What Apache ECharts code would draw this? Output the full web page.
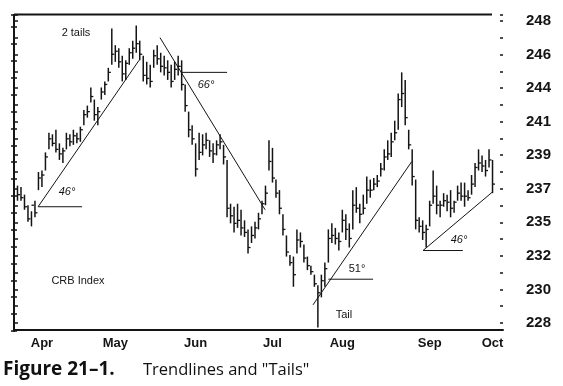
<!DOCTYPE html>
<html><head><meta charset="utf-8">
<script src="https://cdn.jsdelivr.net/npm/echarts@6/dist/echarts.min.js"></script>
<style>html,body{margin:0;padding:0;background:#fff}#c{width:563px;height:386px}</style>
</head><body><div id="c"></div>
<script>
// daily CRB Index bars (high / low / close), late March to October
const highs=[237.1,237.0,236.5,235.8,235.4,236.1,238.0,238.1,239.3,240.6,
240.5,240.8,239.9,239.6,240.6,240.5,240.8,240.6,241.0,242.1,
242.4,243.6,242.8,242.3,243.6,244.0,244.9,247.5,246.4,246.2,
245.7,245.4,246.2,246.7,247.7,246.7,245.7,245.3,245.1,246.1,
246.4,245.9,245.7,245.4,245.1,245.3,245.7,245.4,243.8,242.0,
241.1,239.9,240.6,240.5,240.6,240.1,239.9,240.1,240.5,239.8,
238.8,235.9,235.7,235.9,235.5,234.8,234.2,234.4,234.7,235.3,
236.1,237.1,240.1,239.6,237.5,236.8,235.2,233.8,232.5,232.4,
234.2,234.0,233.2,232.4,231.8,231.2,230.5,231.2,232.0,234.2,
234.6,234.3,234.0,235.5,235.2,234.6,236.8,237.0,235.9,236.5,
237.7,237.5,237.6,237.8,238.6,239.5,240.1,240.6,241.4,243.2,
244.6,244.1,240.8,239.5,237.5,235.0,234.8,234.5,236.1,238.1,
237.1,236.1,236.6,236.5,236.8,236.1,237.1,237.3,237.3,236.8,
237.8,238.6,239.5,239.1,238.8,239.5,238.8];
const lows=[236.1,236.1,235.5,234.7,234.4,235.0,236.8,237.0,238.1,239.5,
239.7,239.3,238.8,238.6,239.5,239.7,239.8,239.9,240.0,241.1,
241.6,242.6,241.4,241.1,242.8,243.1,244.0,245.1,245.3,244.9,
244.0,244.1,245.1,245.5,245.9,245.4,244.0,243.8,243.6,244.9,
245.1,244.6,244.4,244.1,243.6,244.1,244.4,243.4,242.0,240.3,
239.8,237.7,238.8,239.1,239.5,239.0,238.6,239.1,239.5,238.5,
235.0,234.6,234.0,234.3,233.8,233.7,232.6,233.3,233.6,234.2,
235.2,235.8,238.1,237.3,236.3,235.2,233.8,232.4,231.8,230.4,
232.6,233.0,232.0,231.5,231.2,230.4,227.7,229.7,230.4,232.0,
233.3,233.2,232.8,234.0,233.5,233.0,234.2,235.3,234.6,235.2,
235.9,236.3,236.8,237.0,237.7,238.1,238.8,239.0,240.1,240.8,
242.3,241.1,239.5,237.1,234.2,234.0,233.5,233.0,234.4,235.9,
235.2,235.0,235.7,235.4,235.0,235.3,236.1,236.1,235.7,236.1,
236.5,237.0,238.1,238.0,237.7,238.3,236.6];
const closes=[236.5,236.3,235.7,234.9,235.8,235.3,237.6,237.8,239.0,240.2,
239.9,239.5,239.2,239.4,240.2,240.0,240.4,240.2,240.8,241.8,
242.0,243.0,241.8,242.0,243.3,243.8,244.6,245.8,246.0,245.3,
244.5,245.2,245.9,246.2,246.5,245.8,244.4,244.2,244.0,245.7,
245.5,245.0,244.9,244.6,244.0,244.8,245.0,243.8,242.4,240.8,
240.2,238.2,239.3,239.8,240.1,239.4,239.2,239.8,240.0,239.0,
235.6,235.1,234.6,234.8,234.3,234.0,233.0,233.8,234.3,234.9,
235.9,236.6,238.7,237.6,236.6,235.6,234.2,232.7,232.0,231.2,
233.5,233.4,232.3,231.8,231.4,230.6,230.0,230.8,231.6,233.6,
233.8,233.6,233.4,234.8,234.2,233.6,235.8,235.6,235.2,235.6,
236.8,236.8,237.2,237.4,238.2,239.0,239.2,240.0,240.6,242.8,
243.2,241.6,239.8,237.7,234.8,234.4,234.0,234.2,235.8,236.4,
235.8,235.8,236.1,236.0,235.6,236.0,236.6,236.4,236.4,236.3,
237.2,238.3,238.6,238.4,238.1,238.8,237.2];
const yTickLabels=[228,230,232,235,237,239,241,244,246,248];
const monthLabels=['Apr','May','Jun','Jul','Aug','Sep','Oct'];
const monthPos=[8,29,52,74,94,119,137];
// trendlines and their horizontal reference lines: [dayIndex, price]
const trend1=[[6.9,235.7],[35.8,245.4]];
const flat1=[[6.9,235.7],[19.5,235.7]];
const trend2=[[41.8,246.9],[71.9,235.5]];
const flat2=[[47.8,244.6],[61.0,244.6]];
const trend3=[[85.6,229.2],[113.9,238.7]];
const flat3=[[90.0,230.9],[102.8,230.9]];
const trend4=[[117.1,232.8],[137.1,236.7]];
const flat4=[[117.1,232.8],[128.5,232.8]];

const Y0=228, STEP=20/9;
function yLabel(v){const k=(v-Y0)/STEP;const r=Math.round(k);
  if(Math.abs(k-r)>0.01||r<0||r>=yTickLabels.length) return '';return String(yTickLabels[r]);}
const bars=highs.map((h,i)=>[i+1,h,lows[i],closes[i]]);
const INK='#141414';
const numFont="'Liberation Sans',Arial,sans-serif";
const lineSeries=(d)=>({type:'line',xAxisIndex:0,yAxisIndex:0,data:d,symbol:'none',silent:true,
  lineStyle:{color:INK,width:1},z:3});
const chart=echarts.init(document.getElementById('c'));
chart.setOption({
  animation:false,
  backgroundColor:'#fff',
  grid:[{left:14,right:60,top:15,bottom:63},{left:14,right:60,top:15,bottom:55}],
  xAxis:[
    {type:'value',gridIndex:0,min:0,max:140,interval:1,position:'bottom',offset:7,
     axisLine:{show:true,lineStyle:{color:INK,width:2}},axisTick:{show:false},splitLine:{show:false},
     axisLabel:{margin:7,color:INK,fontFamily:numFont,fontWeight:'bold',fontSize:13,
       formatter:v=>{const k=monthPos.indexOf(Math.round(v));return (k>=0&&Math.abs(v-Math.round(v))<1e-6)?monthLabels[k]:'';}}},
    {type:'value',gridIndex:1,min:0,max:1,show:false}
  ],
  yAxis:[
    {type:'value',gridIndex:0,position:'right',min:228,max:248.4,interval:STEP,
     axisLine:{show:true,lineStyle:{color:INK,width:2}},
     axisTick:{show:true,length:4,lineStyle:{color:INK,width:1.5}},
     minorTick:{show:true,splitNumber:2,length:4,lineStyle:{color:INK,width:1.5}},
     splitLine:{show:false},minorSplitLine:{show:false},
     axisLabel:{formatter:yLabel,margin:23,color:INK,fontFamily:numFont,fontWeight:'bold',fontSize:15,padding:[0,0,8,0]}},
    {type:'value',gridIndex:0,position:'right',min:228,max:248.4,interval:STEP,
     axisLine:{show:false},axisLabel:{show:false},splitLine:{show:false},
     axisTick:{show:true,inside:true,length:3,lineStyle:{color:INK,width:1.5}},
     minorTick:{show:true,splitNumber:2,length:3,lineStyle:{color:INK,width:1.5}}},
    {type:'value',gridIndex:1,position:'left',min:228,max:248.8,interval:STEP,
     axisLine:{show:true,lineStyle:{color:INK,width:2}},axisLabel:{show:false},splitLine:{show:false},
     axisTick:{show:true,length:3,lineStyle:{color:INK,width:1.5}},
     minorTick:{show:true,splitNumber:2,length:3,lineStyle:{color:INK,width:1.5}}},
    {type:'value',gridIndex:1,position:'left',min:228,max:248.8,interval:STEP,
     axisLine:{show:false},axisLabel:{show:false},splitLine:{show:false},
     axisTick:{show:true,inside:true,length:3,lineStyle:{color:INK,width:1.5}},
     minorTick:{show:true,splitNumber:2,length:3,lineStyle:{color:INK,width:1.5}}}
  ],
  series:[
    {type:'custom',xAxisIndex:0,yAxisIndex:0,data:bars,encode:{x:0,y:[1,2,3]},z:2,silent:true,
     renderItem:function(params,api){
       const x=api.value(0);
       const hi=api.coord([x,api.value(1)]),lo=api.coord([x,api.value(2)]),cl=api.coord([x,api.value(3)]);
       return {type:'group',children:[
         {type:'line',shape:{x1:hi[0],y1:hi[1],x2:lo[0],y2:lo[1]},style:{stroke:INK,lineWidth:1.5}},
         {type:'line',shape:{x1:cl[0],y1:cl[1],x2:cl[0]+2.5,y2:cl[1]},style:{stroke:INK,lineWidth:1.3}}
       ]};
     }},
    lineSeries(trend1),lineSeries(flat1),lineSeries(trend2),lineSeries(flat2),
    lineSeries(trend3),lineSeries(flat3),lineSeries(trend4),lineSeries(flat4)
  ],
  graphic:[
    {type:'line',shape:{x1:14,y1:14.5,x2:492,y2:14.5},style:{stroke:INK,lineWidth:2},z:10},
    {type:'text',x:76,y:33,style:{text:'2 tails',font:"11px 'Liberation Sans',Arial,sans-serif",fill:INK,textAlign:'center',textVerticalAlign:'middle'}},
    {type:'text',x:67,y:192,style:{text:'46°',font:"italic 11px 'Liberation Sans',Arial,sans-serif",fill:INK,textAlign:'center',textVerticalAlign:'middle'}},
    {type:'text',x:206,y:85,style:{text:'66°',font:"italic 11px 'Liberation Sans',Arial,sans-serif",fill:INK,textAlign:'center',textVerticalAlign:'middle'}},
    {type:'text',x:357,y:269,style:{text:'51°',font:"11px 'Liberation Sans',Arial,sans-serif",fill:INK,textAlign:'center',textVerticalAlign:'middle'}},
    {type:'text',x:344,y:315,style:{text:'Tail',font:"11px 'Liberation Sans',Arial,sans-serif",fill:INK,textAlign:'center',textVerticalAlign:'middle'}},
    {type:'text',x:459,y:240,style:{text:'46°',font:"italic 11px 'Liberation Sans',Arial,sans-serif",fill:INK,textAlign:'center',textVerticalAlign:'middle'}},
    {type:'text',x:78,y:281,style:{text:'CRB Index',font:"11px 'Liberation Sans',Arial,sans-serif",fill:INK,textAlign:'center',textVerticalAlign:'middle'}},
    {type:'text',x:3,y:370,style:{text:'Figure 21–1.',font:"bold 19px 'Open Sans',sans-serif",fill:'#111',textAlign:'left',textVerticalAlign:'middle'}},
    {type:'text',x:143,y:370,style:{text:'Trendlines and "Tails"',font:"16.5px 'Open Sans',sans-serif",fill:'#111',textAlign:'left',textVerticalAlign:'middle'}}
  ]
});
</script></body></html>
